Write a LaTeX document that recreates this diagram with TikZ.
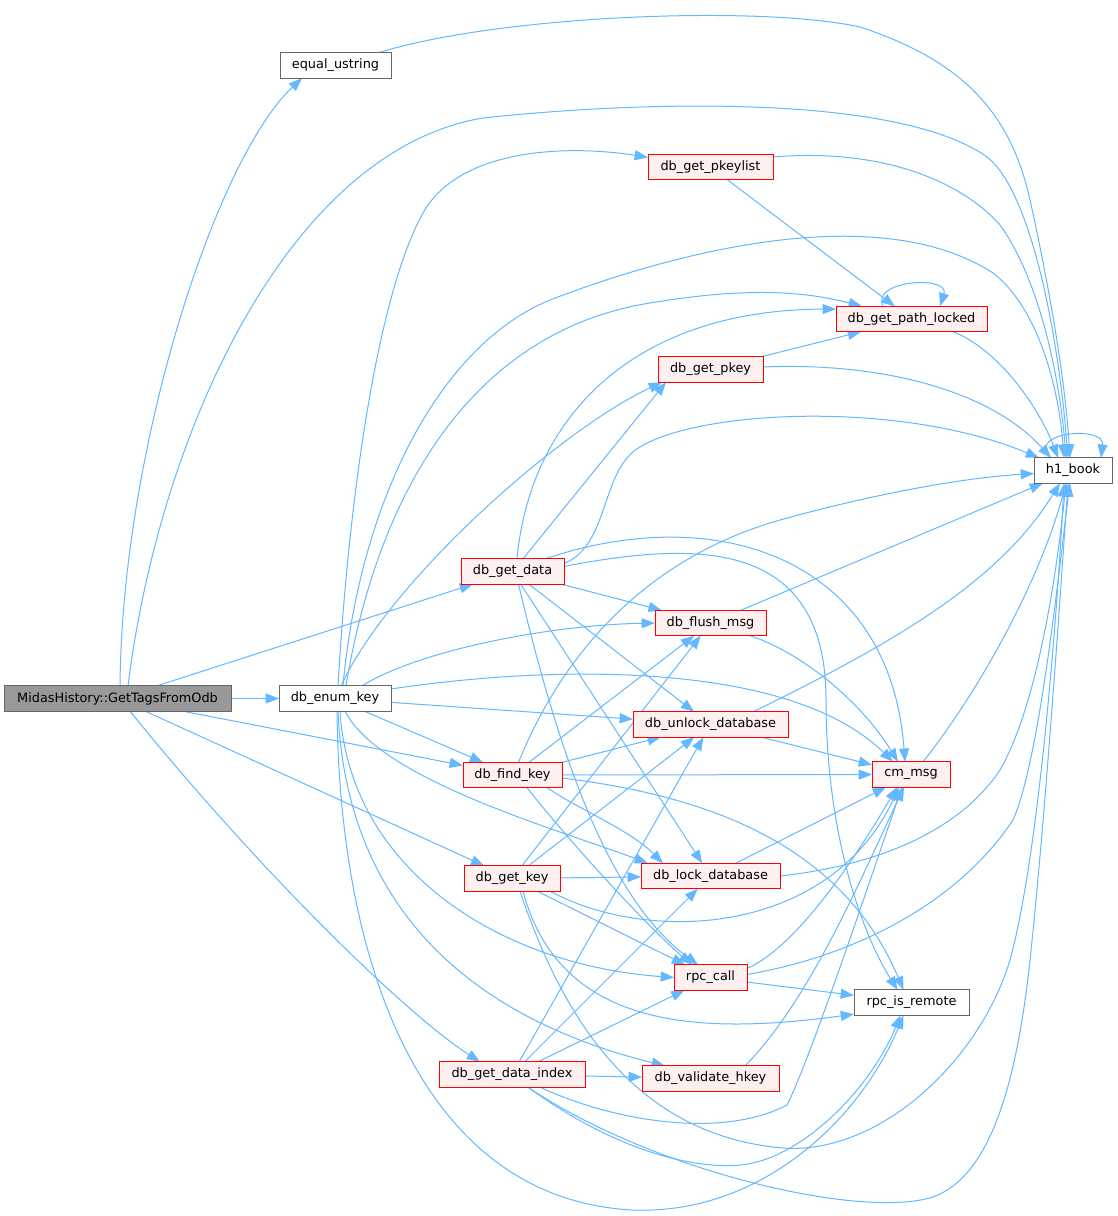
\documentclass[tikz,border=0pt]{standalone}
\usepackage{fontspec}
\setmainfont{DejaVu Sans}
\usetikzlibrary{arrows.meta,calc}
\definecolor{edgec}{HTML}{63B8FF}
\definecolor{redfill}{HTML}{FFF0F0}
\definecolor{redline}{HTML}{FF0000}
\definecolor{grayline}{HTML}{666666}
\definecolor{mainfill}{HTML}{999999}
\pgfdeclarelayer{bg}
\pgfdeclarelayer{paper}
\pgfsetlayers{paper,bg,main}
\begin{document}
\begin{tikzpicture}[x=0.75pt,y=-0.75pt,
 base/.style={rectangle, inner sep=0pt, outer sep=0pt, line width=0.75pt, minimum height=19pt, font=\fontsize{9.65}{11}\selectfont, text=black},
 rn/.style={base, draw=redline, fill=redfill},
 gn/.style={base, draw=grayline, fill=white},
 mn/.style={base, draw=grayline, fill=mainfill},
 ed/.style={draw=edgec, line width=0.75pt, -{Triangle[length=10pt,width=7.5pt]}}]
\begin{pgfonlayer}{paper}
\fill[white] (0,0) rectangle (1117,1216);
\end{pgfonlayer}
\path[use as bounding box] (0,0) rectangle (1117,1216);

% nodes
\node[mn, minimum width=170.25pt] (G) at (117.5,698.5) {MidasHistory::GetTagsFromOdb};
\node[gn, minimum width=83.25pt] (eq) at (335.5,65.5) {equal\_ustring};
\node[gn, minimum width=84pt] (enum) at (335,698.5) {db\_enum\_key};
\node[rn, minimum width=93.75pt] (pkeylist) at (710.5,167) {db\_get\_pkeylist};
\node[rn, minimum width=113.25pt] (pathl) at (911.5,319) {db\_get\_path\_locked};
\node[rn, minimum width=78.75pt] (pkey) at (710.5,369.5) {db\_get\_pkey};
\node[gn, minimum width=58.5pt] (h1) at (1073,470.5) {h1\_book};
\node[rn, minimum width=77.25pt] (getdata) at (512.5,571.5) {db\_get\_data};
\node[rn, minimum width=83.25pt] (flush) at (710.5,623) {db\_flush\_msg};
\node[rn, minimum width=116.25pt] (unlock) at (710.5,724.5) {db\_unlock\_database};
\node[rn, minimum width=58.5pt] (cm) at (911,774.5) {cm\_msg};
\node[rn, minimum width=74.25pt] (findkey) at (512.5,775) {db\_find\_key};
\node[rn, minimum width=72pt] (getkey) at (512,878.5) {db\_get\_key};
\node[rn, minimum width=104.25pt] (lock) at (710.5,876) {db\_lock\_database};
\node[rn, minimum width=54.75pt] (rpc) at (710.5,977.5) {rpc\_call};
\node[gn, minimum width=86.25pt] (isremote) at (911.5,1002.5) {rpc\_is\_remote};
\node[rn, minimum width=109.5pt] (dataindex) at (512,1074.5) {db\_get\_data\_index};
\node[rn, minimum width=102.75pt] (validate) at (710.5,1078.5) {db\_validate\_hkey};

\begin{pgfonlayer}{bg}
% GetTagsFromOdb
\draw[ed] ($(G.north)+(2.5,0)$) .. controls (122,450) and (215,160) .. ($(eq.south)+(-33.5,0)$);
\draw[ed] ($(G.north)+(10.5,0)$) .. controls (160,430) and (290,150) .. (483,118) .. controls (650,100) and (900,95) .. (987,157) .. controls (1030,190) and (1058,330) .. ($(h1.north)+(-5,0)$);
\draw[ed] (G) -- (enum);
\draw[ed] (G) -- (getdata);
\draw[ed] (G) -- (findkey);
\draw[ed] (G) -- (getkey);
\draw[ed] ($(G.south)+(12.5,0)$) .. controls (250,860) and (400,1010) .. ($(dataindex.north west)+(41,0)$);
% equal_ustring
\draw[ed] ($(eq.north)+(42.5,0)$) .. controls (500,15) and (760,5) .. (860,27) .. controls (960,60) and (1010,110) .. (1030,200) .. controls (1050,290) and (1065,380) .. ($(h1.north)+(-3,0)$);
% db_enum_key
\draw[ed] ($(enum.north)+(3,0)$) .. controls (350,480) and (380,290) .. (423,213) .. controls (460,147) and (570,145) .. ($(pkeylist.north west)+(0,3)$);
\draw[ed] ($(enum.north)+(8,0)$) .. controls (360,500) and (440,345) .. (550,300) .. controls (680,250) and (880,200) .. (993,273) .. controls (1035,305) and (1058,380) .. ($(h1.north)+(-9,0)$);
\draw[ed] ($(enum.north)+(11,0)$) .. controls (380,480) and (480,330) .. (650,303) .. controls (740,288) and (800,290) .. ($(pathl.north west)+(26,0)$);
\draw[ed] ($(enum.north)+(6,0)$) .. controls (390,580) and (560,430) .. ($(pkey.south west)+(4,0)$);
\draw[ed] ($(enum.north east)+(-29,0)$) .. controls (420,650) and (550,625) .. (flush.west);
\draw[ed] (enum) -- (unlock);
\draw[ed] ($(enum.east)+(0,-9.5)$) .. controls (550,665) and (790,660) .. ($(cm.north west)+(21,0)$);
\draw[ed] (enum) -- (findkey);
\draw[ed] ($(enum.south)+(10,0)$) .. controls (380,780) and (560,830) .. ($(lock.north west)+(7,0)$);
\draw[ed] ($(enum.south)+(5,0)$) .. controls (350,870) and (500,965) .. (rpc.west);
\draw[ed] ($(enum.south)+(3,0)$) .. controls (345,880) and (440,1010) .. ($(validate.north west)+(23,0)$);
\draw[ed] ($(enum.south)+(2,0)$) .. controls (340,980) and (430,1200) .. (633,1210) .. controls (760,1215) and (860,1120) .. ($(isremote.south)+(-8,0)$);
% db_get_data
\draw[ed] ($(getdata.north)+(4.5,0)$) .. controls (530,420) and (630,310) .. ($(pathl.west)+(0,-10)$);
\draw[ed] ($(getdata.north)+(10.5,0)$) -- ($(pkey.south west)+(8,0)$);
\draw[ed] ($(getdata.east)+(0,-8)$) .. controls (610,545) and (600,470) .. (640,447) .. controls (700,410) and (900,400) .. ($(h1.north west)+(5,0)$);
\draw[ed] ($(getdata.north)+(32.5,0)$) .. controls (720,500) and (890,560) .. ($(cm.north)+(-6,0)$);
\draw[ed] ($(getdata.east)+(0,-5)$) .. controls (700,540) and (826,540) .. (826,700) .. controls (826,830) and (860,930) .. ($(isremote.north)+(-14,0)$);
\draw[ed] (getdata) -- (flush);
\draw[ed] (getdata) -- (unlock);
\draw[ed] (getdata) -- (lock);
\draw[ed] ($(getdata.south)+(6,0)$) .. controls (560,760) and (610,900) .. ($(rpc.north)+(-12.5,0)$);
% db_find_key
\draw[ed] ($(findkey.north)+(6,0)$) .. controls (560,660) and (640,560) .. (780,520) .. controls (870,495) and (960,478) .. ($(h1.west)+(0,3)$);
\draw[ed] (findkey) -- (flush);
\draw[ed] (findkey) -- (unlock);
\draw[ed] (findkey) -- (cm);
\draw[ed] ($(findkey.south east)+(-15,0)$) .. controls (580,810) and (630,830) .. ($(lock.north west)+(22,0)$);
\draw[ed] ($(findkey.south)+(14.5,0)$) .. controls (560,830) and (640,920) .. ($(rpc.north)+(-18.5,0)$);
\draw[ed] ($(findkey.east)+(0,3)$) .. controls (700,795) and (840,840) .. ($(isremote.north)+(-8,0)$);
% db_get_key
\draw[ed] (getkey) -- (flush);
\draw[ed] (getkey) -- (unlock);
\draw[ed] (getkey) -- (lock);
\draw[ed] ($(getkey.south east)+(-10,0)$) .. controls (650,945) and (830,935) .. ($(cm.south)+(-12,0)$);
\draw[ed] (getkey) -- (rpc);
\draw[ed] ($(getkey.south)+(11,0)$) .. controls (560,1030) and (700,1035) .. ($(isremote.south west)+(0,-1)$);
\draw[ed] ($(getkey.south)+(8,0)$) .. controls (560,1010) and (630,1135) .. (783,1148) .. controls (880,1155) and (980,1060) .. (1010,960) .. controls (1040,850) and (1058,600) .. ($(h1.south)+(-9,0)$);
% db_get_data_index
\draw[ed] (dataindex) -- (unlock);
\draw[ed] (dataindex) -- (lock);
\draw[ed] (dataindex) -- (rpc);
\draw[ed] (dataindex) -- (validate);
\draw[ed] ($(dataindex.south)+(28,0)$) .. controls (610,1120) and (720,1140) .. (787,1105) .. controls (810,1060) and (870,880) .. ($(cm.south)+(-9,0)$);
\draw[ed] ($(dataindex.south)+(16,0)$) .. controls (600,1140) and (680,1170) .. (740,1165) .. controls (800,1160) and (870,1090) .. ($(isremote.south)+(-11,0)$);
\draw[ed] ($(dataindex.south)+(16,0)$) .. controls (650,1170) and (860,1220) .. (933,1197) .. controls (985,1178) and (1015,1100) .. (1030,960) .. controls (1045,820) and (1060,600) .. ($(h1.south)+(-5,0)$);
% others
\draw[ed] ($(validate.north)+(34.5,0)$) .. controls (810,1000) and (860,880) .. ($(cm.south)+(-7,0)$);
\draw[ed] (lock) -- (cm);
\draw[ed] (lock.east) .. controls (880,865) and (960,830) .. (1000,770) .. controls (1040,700) and (1058,560) .. ($(h1.south)+(-7,0)$);
\draw[ed] ($(rpc.east)+(0,-9)$) .. controls (800,945) and (860,850) .. ($(cm.south)+(-14,0)$);
\draw[ed] ($(rpc.east)+(0,-3)$) .. controls (860,955) and (960,900) .. (1013,820) .. controls (1040,760) and (1060,560) .. ($(h1.south)+(-3,0)$);
\draw[ed] (rpc) -- (isremote);
\draw[ed] (unlock) -- (cm);
\draw[ed] ($(unlock.north east)+(-35,0)$) .. controls (900,640) and (1000,580) .. ($(h1.south)+(-13,0)$);
\draw[ed] ($(flush.south east)+(-16,0)$) .. controls (800,652) and (860,700) .. ($(cm.north)+(-13,0)$);
\draw[ed] (flush) -- (h1);
\draw[ed] ($(cm.north east)+(-27,0)$) .. controls (980,690) and (1040,580) .. ($(h1.south)+(-7,0)$);
\draw[ed] (pkey) -- (pathl);
\draw[ed] ($(pkey.east)+(0,-2.5)$) .. controls (880,362) and (990,390) .. ($(h1.north west)+(17,0)$);
\draw[ed] (pkeylist) -- (pathl);
\draw[ed] ($(pkeylist.east)+(0,-10)$) .. controls (880,148) and (960,180) .. (1000,225) .. controls (1040,280) and (1060,380) .. ($(h1.north)+(-7,0)$);
\draw[ed] ($(pathl.south east)+(-34,0)$) .. controls (1000,350) and (1040,410) .. ($(h1.north)+(-15,0)$);
\draw[ed] ($(pathl.north)+(-28.5,0)$) .. controls (870,280) and (950,275) .. ($(pathl.north)+(28.5,0)$);
\draw[ed] ($(h1.north)+(-22,0)$) .. controls (1025,432) and (1105,425) .. ($(h1.north east)+(-11,0)$);
\end{pgfonlayer}
\end{tikzpicture}
\end{document}
